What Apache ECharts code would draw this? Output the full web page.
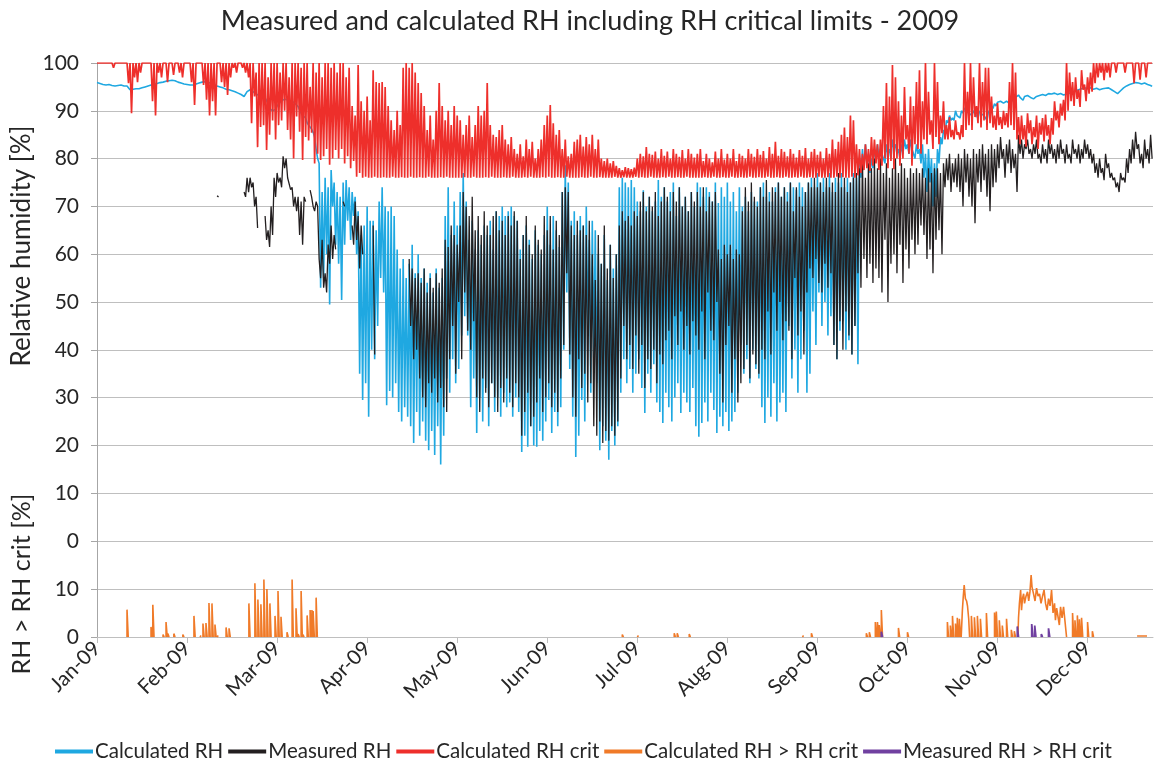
<!DOCTYPE html>
<html>
<head>
<meta charset="utf-8">
<script src="https://cdn.jsdelivr.net/npm/echarts@6/dist/echarts.min.js"></script>
<style>
html,body{margin:0;padding:0;background:#fff;}
#chart{width:1157px;height:760px;}
</style>
</head>
<body>
<div id="chart"></div>
<script>
// ---- Data (day index 0 = Jan-09 tick; each axis label step = 30 days) ----
const monthLabels = ['Jan-09','Feb-09','Mar-09','Apr-09','May-09','Jun-09','Jul-09','Aug-09','Sep-09','Oct-09','Nov-09','Dec-09'];
const seriesNames = ['Calculated RH','Measured RH','Calculated RH crit','Calculated RH > RH crit','Measured RH > RH crit'];
const yTopTicks = [0,10,20,30,40,50,60,70,80,90,100];
const yBottomTicks = [0,10];
const X_END = 351.8;

// Calculated RH: daily high / low
const blueHi = [
95.9,95.7,95.5,95.4,95.5,95.3,95.2,95.3,95.4,95.2,
95.2,94.4,94.5,94.6,94.6,94.8,95.0,95.2,95.4,95.5,
95.7,95.9,96.0,96.2,96.3,96.4,96.3,96.0,95.8,95.6,
95.5,95.4,95.4,95.6,95.8,96.0,96.1,96.0,95.7,95.5,
95.2,95.0,94.8,94.5,94.4,94.2,94.0,93.7,93.4,93.0,
94.0,94.4,94.0,93.5,93.2,93.0,92.7,91.5,90.2,90.4,
91.0,91.8,92.3,92.4,92.1,92.0,91.5,90.9,89.5,88.8,
87.5,86.6,85.5,82,79,73,76,74,77.6,75,
73,72,75,75.5,74,73,72,69,64,66,
70,67,67,65,71,74,70,69,70,68,
61,57,59,55,58,62,56,60,55,57,
54,56,52,57,53,55,68,74,64,71,
66,73,77,71,63,67,61,65,62,66,
64,67,61,69,68,70,68,69,70,68,
67,61,64,66,63,59,65,62,60,64,
70,62,68,65,61.5,73,78.6,75,67,69,
64,68,66,70,63,67,65,60,58,64,
54.6,62,57,60,74,76,75,74,75.5,74,
71,69,73.4,70,72,69,71,75.5,72,74,
71,73,75,68,74,70,72,69,73,70,
75,74,72,74,73,71,75,70.7,74,72,
75,71,73,69,74,70,72,69,73,71,
71,74,75,72,73,71,74,75,72,74,
73,75,74,73.5,75,74,73,75,76,74,
77,75,76,74,77,73,76,75,77,74,
76,75,77,76,80,82,83,81,80,82,
83,82,81,83,82,84,83,82,83,84,
83,84,82,83,82,83,81,82,80,79,
82,84.5,86,88,89,88.5,90,89,90,90.6,
90,89.5,90,89,90,89.5,88.5,90,91,91.5,
91.8,92,91.6,92,91.5,92.3,92.8,93.3,92.6,93,
93.2,92.8,92.5,93,93.2,93.4,93.2,93.6,93.5,93.7,
93.4,93.6,93.3,93.5,93.7,93.8,94.2,94.4,94.6,94.8,
94.6,94.8,94.5,94.7,94.4,94.6,94.7,94.8,94.4,94.0,
93.6,94.2,94.8,95.2,95.5,95.7,95.9,95.8,95.6,95.8,
95.5,95.3];
const blueLo = [
95.8,95.6,95.4,95.3,95.3,95.2,95.1,95.2,95.2,95.1,
95.0,94.3,94.4,94.5,94.5,94.7,94.9,95.1,95.3,95.4,
95.6,95.8,95.9,96.1,96.2,96.3,96.1,95.9,95.7,95.5,
95.4,95.3,95.3,95.5,95.7,95.9,96.0,95.8,95.6,95.4,
95.1,94.9,94.6,94.4,94.2,94.0,93.8,93.5,93.2,92.9,
93.8,94.2,93.8,93.3,93.0,92.8,92.3,90.5,90.0,90.3,
90.8,91.6,92.1,92.2,92.0,91.8,91.2,90.5,89.0,88.5,
87.0,86.2,84.5,80,53,55,60,49.5,70,62,
58,50.4,62,67,63,68,60,35,29.5,33,
26,40,38,45,55,52,28.4,31.4,30,33,
27,25,28,26,24,20.5,27,22,25,21,
19,23,18,24,16,22,34,31,38,33,
36,43,47,43,28,34,22.6,30,25,32,
24,33,27,30,26,31,28,29,26,30,
27,18.6,22,19.7,24,20,19.7,23,21,25,
29.5,22.6,27,24,28,40,52,36,26,17.6,
22,29.5,25,45,31,38,33,19,24,21,
17,23,20,24,31,38,33,36,31,35,
38,32,26.8,35,31,37,29,27,24.7,31,
28,25,30,33,26.8,31,29,27,32,24,
21.8,24.7,29,25,31,27.4,22.6,26,24,27,
23,25,27,31,41,35,38,33,40,36,
34,28,24.7,30,26,33,25,29,31,27,
45,34,40,31,38,44,31,35,48,41,
52,45,50,43,47,41,38,44,46,40,
42,39,45,37,76,78,79,77,78,80,
80,81,79,81,80,82,81,80,81,82,
81,82,80,81,79,76,73,75,70,72,
79,83,85,87.5,88,88,89,88.5,89.5,90,
89.5,89,89.6,88.5,89.4,89,88,89.5,90.5,91,
91.4,91.6,91.2,91.6,91.1,91.8,92.4,92.8,92.2,92.6,
92.8,92.4,92.2,92.6,92.9,93,92.9,93.2,93.1,93.3,
93.1,93.2,93,93.2,93.4,93.5,93.9,94.1,94.3,94.5,
94.3,94.5,94.2,94.3,94.1,94.3,94.4,94.5,94.1,93.7,
93.4,93.9,94.5,94.9,95.2,95.4,95.6,95.5,95.3,95.5,
95.3,95.1];

// Measured RH: daily high / low (null = no measurement)
const N = null;
const blackHi = [
N,N,N,N,N,N,N,N,N,N, N,N,N,N,N,N,N,N,N,N, N,N,N,N,N,N,N,N,N,N, N,N,N,N,N,N,N,N,N,N,
72.2,N,N,N,N,N,N,N,N,73,
76,76,75,72,N,N,68,65,70,76,
77,76,80.5,80,76,74,72,72,71,72,
N,73.4,70,71,59,63,56,62,66,64,
N,N,71,N,N,66,71,68,66,N,
N,N,66,N,N,N,N,N,N,N,
N,N,N,N,59,57,55,56,54,57,
52,55,53,56,54,57,63,61.5,66,64,
62,66,73,70,68,72,65,68,64,69,
66,64,68,69,65,67,64,68,66,69,
67,59,64,68,62,60,66,63,61,68,
65,68,61,67,64,73,74,73,66,64,
67,65,66,64,67,60,54.6,64,58,66,
57,62,55,60,66,69,67,68,66,69,
68,71,73,69,72,70,73,68,71,74,
72,69,73,71,74,70,72,69,73,71,
73,70,74,69,72,71,73,61,59,62,
60,62,59,61,60,69,74,71,75,72,
70,74,72,75.5,71,74,73,75,72,74,
71,75,69,74,72,70,73,75,74,76,
74,75,73,76,74,75,73,77,74,76,
73,75,76,77,78,80,76,79,78,80,
78,80,77,79,76,78,80,77,79,78,
76,78,77,78,77,78,76,78,77,78,
78,77,79,80,81,79,80,81,80,82,
81,80,82,81,82,83,81,82,83,82,
83,84.5,82,83,84,82,81,85,84,83,
84,82,83,84,81,83,82,84,83,82,
83,84,82,83,81,84,82,83,82,84,
83,82,81,79,80,78,81,79,77,76,
75,77,76,80,82,84,85.6,83,81,84,
82,85];
const blackLo = [
N,N,N,N,N,N,N,N,N,N, N,N,N,N,N,N,N,N,N,N, N,N,N,N,N,N,N,N,N,N, N,N,N,N,N,N,N,N,N,N,
72,N,N,N,N,N,N,N,N,72,
73,74,70,65.5,N,N,63,61.5,64,72,
75,74,78,76,73.5,70,69,64,62,71,
N,72,69,70,55,53,52,58,59,61,
N,N,70,N,N,62,63,57,60,N,
N,N,39,N,N,N,N,N,N,N,
N,N,N,N,45,38,40,34,30,28,
33,31,34,29,32,28,27,38,45,35,
50,38,52,44,40,46,30,27,34,31,
28,33,30,27,32,29,34,31,28,33,
30,22,27,31,24,26,29,34,27,30,
33,28,31,27,34,41,56,39,30,26,
38,32,35,29,33,24,22,25,20.5,23,
21,24,22,25,34,45,38,41,36,43,
35,41,32,38,36,40,33,39,37,42,
44,38,47,41,48,40,45,39,46,43,
40,48,38,52,44,42,50,35,29,41,
45,31,38,29,33,36,41,34,39,37,
35,40,38,48,39,52,44,50,42,46,
44,38,55,43,48,39,52,57,55,59,
54,52,58,53,56,41,38,46,40,48,
43,39,45,56,53,59,55,58,54,57,
55,52,63,50,58,60,56,62,54,61,
57,63,60,62,66,64,59,61,56,63,
65,60,74,75.5,73,75,74,73,70,75,
72,70,66.5,75,73,75.5,72,69,74,75,
78,80,76,79,77,78,73,81,80,82,
81,80,81,80,79,80,79,81,80,79,
80,81,79,80,79,81,80,79,80,81,
80,79,77,76,77,75.5,78,76,75.5,74,
73,75.5,75,77,79,80,82,79,78,80,
79,80];

// Calculated RH crit: daily high / low
const redHi = [
100,100,100,100,100,100,100,100,100,100,
100,100,100,100,100,100,100,100,100,100,
100,100,100,100,100,100,100,100,100,100,
100,100,100,100,100,100,100,100,100,100,
100,100,100,100,100,100,100,100,100,100,
100,100,100,98,100,100,100,97,100,100,
100,98,100,100,97,100,100,100,99,100,
100,95,100,98,100,97,100,100,99,100,
98,100,100,97,99,91,89,99.6,92,90,
93,88,98.5,96,95.8,96,95,91,88,86,
90,87,99,100,99,100,98,95.8,93.7,91,
86,89,84,90,95.8,91,88,90,87,91,
89,88,85,87,89,84.5,87,91,89,90,
95.8,87,85,84.5,86,87,84,83,84.5,82,
81,83,80.5,84,82,83.5,80,82,84,87,
89,91.2,87.4,85,86,82,84,80.5,81,83.5,
84,85,82.5,84.5,83,85,82,84,80,79.5,
80,79,79.5,78.5,78,77.6,78.2,78,77.8,78.1,
80,81,80.5,82.4,81,80.8,81.5,80,82,80.6,
81.5,80,82,81,80.4,81.8,80,82,81,80.2,
81,82,79.5,81,80,79.2,81.5,80,82,79.8,
81,80,82,79.5,81,80.6,80,82,81,80.4,
82,80.8,81.6,80,82.4,81,83.5,80.6,82,81.4,
80.5,82,81,80.2,81.8,80.6,82.2,80,81.4,82,
80.8,81.5,80,82.2,81,84,82,83.5,85,86.5,
84.5,89,88,83,82,81,83,82,84.5,84,
83,84,91,95.8,93,99.6,97,92,89,95,
87,93,91,96,98.5,92,100,94,88,100,
96,89,92,87,88.7,86,88,85.5,87,100,
94,100,97,91,100,96,99,99,93,89,
91.6,88.7,90,89.5,96,100,98,88.7,89,87,
89.5,88,86.6,89,87.5,88.5,89.2,87,88.5,92,
90,91.5,92.3,100,98,96,97,94.4,98.5,95.5,
97,98,100,100,100,100,100,100,100,100,
100,100,100,100,100,100,100,100,100,100,
100,100];
const redLo = [
100,100,100,100,100,99,100,100,100,100,
95.8,89.5,97,96,98,100,100,100,92,89,
98,97,100,96,100,97.5,100,98,97,100,
100,96,91.2,100,100,95.4,92.3,89,92,89,
100,96,95,93.3,97,99,98,100,99,98,
97,87.4,93,82.4,86.6,87,81.8,85,88,84,
87,88,90,86,84,80,88.8,85.6,79.7,84.5,
83.8,85.4,79,81,79.7,80.5,82,78.7,80,81.8,
80,82,79,80.5,78,79.5,76.2,77,76,76.2,
76,76,76.2,76,76,76.1,76,76,76.2,76,
76,76.1,76,76,76.2,76,76,76.1,76,76,
76.2,76,76,76,76.1,76,76.2,76,76,76,
76,76,76.1,76,76,76.2,76,76,76,76.1,
76,76.2,76,76,76,76.1,76,76,76.2,76,
76,76,76.1,76,76.2,76,76,76,76.1,76,
76.2,76,76,76.1,76,76,76.2,76,76,76,
76,76.1,76,76,76.2,76,76,76.1,76,76,
76,76,76.2,76,76,76.1,76,76,76,76.2,
76,76.1,76,76,76.2,76,76,76,76.1,76,
76.2,76,76,76.1,76,76,76.2,76,76,76,
76,76,76.1,76,76,76.2,76,76,76.1,76,
76,76.2,76,76,76.1,76,76,76.2,76,76,
76.1,76,76,76.2,76,76,76.1,76,76,76.2,
76,76,76.1,76,76.2,76,76,76.1,76,76,
76.2,76,76,76.1,76,76,76.2,76,76.1,76,
76,76.2,76,76.5,77,77.6,78,77.4,78.5,79,
77.6,78.5,80,78,79.5,77.8,80,78.5,80,84,
81,78.5,83,82,81,84,83,85,82,84.5,
83,85.3,84,84,84.5,84,85,84,84.5,86,
87,86,88.7,87.4,86.5,88,86,87.4,86.5,86,
87,86.2,87,86.5,87,86,84,83,84,82.5,
85.3,83,84.5,82,85,83.6,84.8,83,85,88,
86.5,89,88,90,92,91,92.5,90.8,94.4,92,
93.6,94,95.8,97,98,96.4,98,97,100,98,
100,100,98,100,100,95.8,100,96.5,100,97,
100,100];

// Calculated RH > RH crit: isolated exceedance days and continuous stretches
const orangeSpikeDays = [10.2,18.2,18.8,22.2,23.2,23.8,25.8,28.8,32.5,34.5,35.5,36.5,37.5,38.5,39.5,40.2,43.2,44.2,
  50.8,52.8,53.8,54.8,55.8,56.8,57.8,59.5,60.5,61.5,63.5,65.2,66.5,67.2,68.2,68.8,70.2,71.2,71.8,72.2,73.2,
  175.2,180.2,192.5,193.5,197.5,235.2,238.2,256.5,257.5,259.5,260.2,260.8,261.5,267.2,270.2,
  283.5,284.5,285.2,286.2,286.8,287.5,291.5,292.5,293.5,294.5,296.5,299.2,299.8,300.8,301.8,303.2,304.8,305.8,
  325.2,326.0,326.8,327.5,328.2,330.2,331.8];
const orangeSpikeVals = [5.7,2.1,6.7,0.5,3.1,0.7,0.7,0.5,4.4,0.3,2.8,2.9,7.1,7.0,2.6,0.3,2.0,1.8,
  7.0,11.2,7.8,6.8,12.0,10.0,7.0,4.4,9.6,4.2,1.0,12.0,6.0,0.6,9.6,0.5,4.5,5.6,5.6,5.4,8.2,
  0.5,0.3,0.8,0.8,0.6,0.3,0.8,0.8,1.0,3.1,3.1,2.5,5.6,1.9,1.0,
  3.1,2.4,4.4,2.8,4.0,3.8,4.4,4.1,4.4,3.8,5.0,5.1,5.3,3.5,2.4,3.8,1.5,1.2,
  5.0,3.5,4.5,3.7,4.0,3.1,1.2];
const orangeRunDays = [
  [287.9,288.3,288.6,288.9,289.3,289.7,290.0,290.4,290.7],
  [306.8,307.0,307.3,307.7,308.0,308.3,308.7,309.0,309.5,310.0,310.4,310.8,311.2,311.5,312.0,312.5,313.0,313.5,314.0,314.5,315.0,315.5,316.0,316.5,317.0,317.5,318.0,318.5,319.0,319.3,319.7,320.2,320.6,321.0,321.5,322.0,322.6,323.0],
  [346.5,349.8]];
const orangeRunVals = [
  [0,5.6,8.5,10.8,8.0,7.5,6.5,3.8,0],
  [0,4,7,9.8,5.6,8,9,7,8.5,9.4,7.5,9.4,12.9,10.4,9,7.5,10.2,8.5,9,7,8.5,9.8,7,5.6,8,6.5,9.8,5,7,3.5,6,6.3,2.5,6.3,4,6.3,6.0,0],
  [0.2,0.2]];

// Measured RH > RH crit
const purpleSpikeDays = [261.5,306.8,311.6,312.6,314.8,317.2];
const purpleSpikeVals = [1.1,2.2,2.7,2.4,0.6,1.8];

// ---- build series data ----
function dailyHiLo(hi, lo) {
  const out = [];
  for (let d = 0; d < hi.length; d++) {
    out.push([d, hi[d] == null ? '-' : hi[d]]);
    out.push([d + 0.5, lo[d] == null ? '-' : lo[d]]);
  }
  return out;
}
function spikesAndRuns(sDays, sVals, rDays, rVals) {
  const out = [];
  const w = 0.2;
  sDays.forEach((d, i) => {
    const v = sVals[i];
    out.push([d - w, 0], [d - w, v], [d + w, v], [d + w, 0], [d, '-']);
  });
  (rDays || []).forEach((days, j) => {
    days.forEach((d, i) => out.push([d, rVals[j][i]]));
    out.push([days[days.length - 1], '-']);
  });
  return out;
}

const FONT = 'Lato';
const TXT = '#262626';
const GRIDC = '#BFBFBF';
const AXC = '#A6A6A6';
const tickVals = monthLabels.map((_, i) => i * 30);
const COLORS = ['#1FA8E1', '#231F20', '#EE2F2B', '#F07A28', '#7040A0'];

const chart = echarts.init(document.getElementById('chart'), null, {renderer: 'canvas'});
chart.setOption({
  animation: false,
  backgroundColor: '#fff',
  textStyle: {fontFamily: FONT},
  grid: [
    {left: 97, right: 4, top: 63, height: 478},
    {left: 97, right: 4, top: 541, height: 96}
  ],
  xAxis: [
    {gridIndex: 0, type: 'value', min: 0, max: X_END, show: false},
    {gridIndex: 1, type: 'value', min: 0, max: X_END, interval: 30,
      axisLine: {show: true, lineStyle: {color: GRIDC, width: 1}},
      axisTick: {show: true, inside: false, length: 6, customValues: tickVals, lineStyle: {color: GRIDC}},
      axisLabel: {customValues: tickVals, rotate: 45, margin: 8, fontSize: 20.5, color: TXT, fontFamily: FONT,
        formatter: v => monthLabels[Math.round(v / 30)] || ''},
      splitLine: {show: false}}
  ],
  yAxis: [
    {gridIndex: 0, type: 'value', min: 0, max: 100, interval: 10,
      axisLine: {show: true, lineStyle: {color: AXC}},
      axisTick: {show: true, length: 6, lineStyle: {color: AXC}},
      axisLabel: {fontSize: 21, color: TXT, margin: 18, fontFamily: FONT},
      splitLine: {show: true, lineStyle: {color: GRIDC, width: 1}}},
    {gridIndex: 1, type: 'value', min: 0, max: 20, interval: 10,
      axisLine: {show: true, lineStyle: {color: AXC}},
      axisTick: {show: true, length: 6, lineStyle: {color: AXC}},
      axisLabel: {fontSize: 21, color: TXT, margin: 18, fontFamily: FONT, showMaxLabel: false,
        formatter: v => (yBottomTicks.indexOf(v) >= 0 ? String(v) : '')},
      splitLine: {show: true, lineStyle: {color: GRIDC, width: 1}}}
  ],
  legend: {
    data: seriesNames.map((n, i) => ({name: n, icon: 'rect', itemStyle: {color: COLORS[i]}})),
    top: 736, left: 50, itemWidth: 38, itemHeight: 4, itemGap: 5,
    textStyle: {fontSize: 20.5, color: TXT, fontFamily: FONT, padding: [0, 0, 0, -3]}
  },
  graphic: [
    {type: 'text', x: 590, y: 21, style: {text: 'Measured and calculated RH including RH critical limits - 2009', font: '27px Lato', fill: TXT, align: 'center', verticalAlign: 'middle'}},
    {type: 'text', x: 22, y: 246, rotation: Math.PI / 2, style: {text: 'Relative humidity [%]', font: '26px Lato', fill: TXT, align: 'center', verticalAlign: 'middle'}},
    {type: 'text', x: 22, y: 584, rotation: Math.PI / 2, style: {text: 'RH > RH crit [%]', font: '25px Lato', fill: TXT, align: 'center', verticalAlign: 'middle'}}
  ],
  series: [
    {name: seriesNames[0], type: 'line', xAxisIndex: 0, yAxisIndex: 0, symbol: 'none', connectNulls: false,
      lineStyle: {color: COLORS[0], width: 1.6}, itemStyle: {color: COLORS[0]}, data: dailyHiLo(blueHi, blueLo)},
    {name: seriesNames[1], type: 'line', xAxisIndex: 0, yAxisIndex: 0, symbol: 'none', connectNulls: false,
      lineStyle: {color: COLORS[1], width: 1.3}, itemStyle: {color: COLORS[1]}, data: dailyHiLo(blackHi, blackLo)},
    {name: seriesNames[2], type: 'line', xAxisIndex: 0, yAxisIndex: 0, symbol: 'none', connectNulls: false,
      lineStyle: {color: COLORS[2], width: 1.7}, itemStyle: {color: COLORS[2]}, data: dailyHiLo(redHi, redLo)},
    {name: seriesNames[3], type: 'line', xAxisIndex: 1, yAxisIndex: 1, symbol: 'none', connectNulls: false,
      lineStyle: {color: COLORS[3], width: 1.6}, itemStyle: {color: COLORS[3]},
      data: spikesAndRuns(orangeSpikeDays, orangeSpikeVals, orangeRunDays, orangeRunVals)},
    {name: seriesNames[4], type: 'line', xAxisIndex: 1, yAxisIndex: 1, symbol: 'none', connectNulls: false,
      lineStyle: {color: COLORS[4], width: 1.8}, itemStyle: {color: COLORS[4]},
      data: spikesAndRuns(purpleSpikeDays, purpleSpikeVals, [], [])}
  ]
});
</script>
</body>
</html>
